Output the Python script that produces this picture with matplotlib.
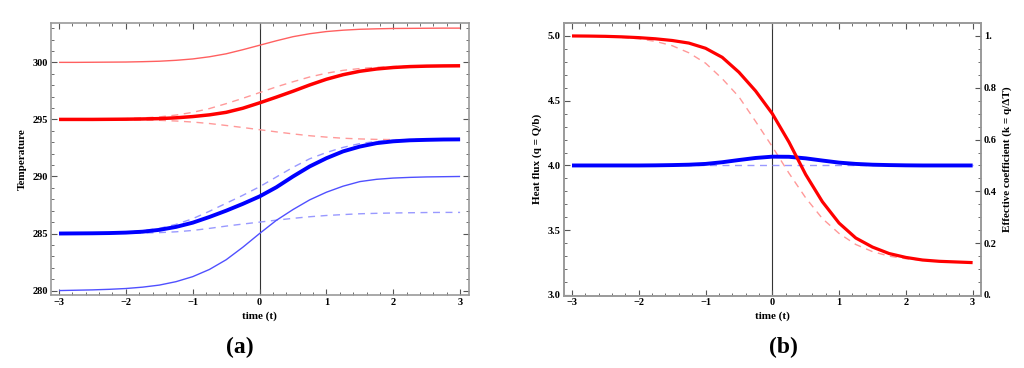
import numpy as np
import matplotlib
matplotlib.use('Agg')
import matplotlib.pyplot as plt
from matplotlib.ticker import MultipleLocator, FixedLocator

# time samples (step 0.25)
t = np.arange(-3, 3.001, 0.25)

# panel (a): temperatures
red_thin = [300.00, 300.00, 300.01, 300.02, 300.03, 300.06, 300.10, 300.18, 300.30, 300.49,
            300.75, 301.11, 301.50, 301.89, 302.25, 302.51, 302.70, 302.82, 302.90, 302.94,
            302.97, 302.98, 302.99, 303.00, 303.00]
red_thick = [295.00, 295.00, 295.00, 295.01, 295.02, 295.04, 295.07, 295.14, 295.25, 295.40,
             295.62, 295.98, 296.45, 296.95, 297.47, 298.02, 298.52, 298.92, 299.22, 299.42,
             299.55, 299.63, 299.67, 299.69, 299.70]
red_dash_up = [295.00, 295.01, 295.02, 295.04, 295.07, 295.13, 295.22, 295.38, 295.62, 295.95,
               296.38, 296.85, 297.35, 297.85, 298.30, 298.72, 299.05, 299.30, 299.46, 299.57,
               299.63, 299.67, 299.69, 299.70, 299.70]
red_dash_lo = [295.00, 295.00, 294.99, 294.98, 294.97, 294.95, 294.92, 294.86, 294.77, 294.64,
               294.47, 294.29, 294.10, 293.91, 293.73, 293.57, 293.45, 293.35, 293.29, 293.25,
               293.23, 293.21, 293.20, 293.20, 293.20]
blue_thick = [285.00, 285.01, 285.02, 285.04, 285.08, 285.16, 285.32, 285.58, 285.95, 286.45,
              287.00, 287.60, 288.25, 289.05, 290.00, 290.88, 291.60, 292.20, 292.62, 292.92,
              293.08, 293.17, 293.21, 293.24, 293.25]
blue_dash_up = [285.00, 285.01, 285.03, 285.06, 285.12, 285.25, 285.45, 285.80, 286.30, 286.95,
                287.65, 288.35, 289.10, 289.95, 290.80, 291.55, 292.10, 292.55, 292.88, 293.08,
                293.18, 293.24, 293.27, 293.29, 293.30]
blue_dash_lo = [285.00, 285.00, 285.00, 285.01, 285.02, 285.04, 285.08, 285.15, 285.27, 285.45,
                285.65, 285.83, 286.00, 286.17, 286.33, 286.47, 286.58, 286.66, 286.73, 286.77,
                286.80, 286.82, 286.84, 286.85, 286.85]
blue_thin = [280.00, 280.03, 280.06, 280.11, 280.18, 280.30, 280.48, 280.78, 281.22, 281.85,
             282.70, 283.80, 285.00, 286.15, 287.10, 287.95, 288.62, 289.15, 289.55, 289.75,
             289.86, 289.92, 289.96, 289.98, 290.00]

# panel (b): heat flux and effective coefficient (on the heat flux scale)
q_solid = [5.000, 4.999, 4.997, 4.993, 4.987, 4.978, 4.965, 4.945, 4.905, 4.835,
           4.720, 4.575, 4.400, 4.180, 3.930, 3.720, 3.555, 3.440, 3.370, 3.320,
           3.290, 3.270, 3.260, 3.255, 3.250]
q_dash = [5.000, 4.998, 4.994, 4.988, 4.978, 4.958, 4.925, 4.870, 4.790, 4.670,
          4.530, 4.340, 4.145, 3.940, 3.750, 3.590, 3.475, 3.390, 3.335, 3.300,
          3.280, 3.268, 3.260, 3.255, 3.250]
k_solid = [4.000, 4.000, 4.000, 4.000, 4.000, 4.001, 4.003, 4.006, 4.012, 4.025,
           4.042, 4.058, 4.068, 4.067, 4.055, 4.038, 4.022, 4.012, 4.006, 4.003,
           4.001, 4.000, 4.000, 4.000, 4.000]
k_dash = [4.00] * len(t)

plt.rcParams['font.family'] = ['Liberation Serif', 'DejaVu Serif']
plt.rcParams['font.weight'] = 'bold'
plt.rcParams['lines.solid_joinstyle'] = 'round'
plt.rcParams['lines.solid_capstyle'] = 'butt'
frame_col = '#9a9a9a'

fig = plt.figure(figsize=(10.24, 3.68), dpi=100)
ax1 = fig.add_axes([0.0498, 0.198, 0.408, 0.7395])
ax2 = fig.add_axes([0.5505, 0.197, 0.4078, 0.7405])


def style(ax, major, minor):
    for s in ax.spines.values():
        s.set_color(frame_col)
        s.set_linewidth(1.2)
    ax.xaxis.set_major_locator(MultipleLocator(1))
    ax.xaxis.set_minor_locator(MultipleLocator(0.2))
    ax.yaxis.set_major_locator(MultipleLocator(major))
    ax.yaxis.set_minor_locator(MultipleLocator(minor))
    ax.tick_params(which='both', direction='in', top=True, right=True,
                   color='#555555', labelsize=7.5, pad=2)
    ax.tick_params(which='major', length=4, width=0.8)
    ax.tick_params(which='minor', length=2, width=0.6)
    ax.axvline(0, color='#333333', lw=0.8, zorder=1)


# panel (a)
style(ax1, 5, 1)
ax1.plot(t, red_dash_up, color='#ff9999', lw=1.0, ls=(0, (5, 4)))
ax1.plot(t, red_dash_lo, color='#ff9999', lw=1.0, ls=(0, (5, 4)))
ax1.plot(t, blue_dash_up, color='#9999ff', lw=1.0, ls=(0, (5, 4)))
ax1.plot(t, blue_dash_lo, color='#9999ff', lw=1.0, ls=(0, (5, 4)))
ax1.plot(t, red_thin, color='#ff6060', lw=1.0)
ax1.plot(t, blue_thin, color='#5050ff', lw=1.0)
ax1.plot(t, red_thick, color='#ff0000', lw=2.5)
ax1.plot(t, blue_thick, color='#0000ff', lw=2.8)
ax1.set_xlim(-3.12, 3.13)
ax1.set_ylim(279.6, 303.45)
ax1.set_xlabel('time (t)', fontsize=8, fontweight='bold', labelpad=3)
ax1.set_ylabel('Temperature', fontsize=8, fontweight='bold', labelpad=4)

# panel (b)
style(ax2, 0.5, 0.1)
ax2.tick_params(which='both', right=False)
ax2.plot(t, q_dash, color='#ff9999', lw=1.0, ls=(0, (5, 4)))
ax2.plot(t, k_dash, color='#9999ff', lw=1.0, ls=(0, (5, 4)))
ax2.plot(t, k_solid, color='#0000ff', lw=2.8)
ax2.plot(t, q_solid, color='#ff0000', lw=2.3)
ax2.set_xlim(-3.124, 3.13)
ax2.set_ylim(2.996, 5.1)
ax2.yaxis.set_major_formatter(matplotlib.ticker.FormatStrFormatter('%.1f'))
ax2.set_xlabel('time (t)', fontsize=8, fontweight='bold', labelpad=3)
ax2.set_ylabel('Heat flux (q = Q/b)', fontsize=8, fontweight='bold', labelpad=4)

axr = ax2.twinx()
axr.set_ylim((2.996 - 3) / 2, (5.1 - 3) / 2)
axr.yaxis.set_major_locator(FixedLocator([0, 0.2, 0.4, 0.6, 0.8, 1.0]))
axr.yaxis.set_minor_locator(MultipleLocator(0.05))
axr.set_yticklabels(['0.', '0.2', '0.4', '0.6', '0.8', '1.'])
axr.tick_params(which='both', direction='in', color='#555555', labelsize=7.5, pad=2)
axr.tick_params(which='major', length=4, width=0.8)
axr.tick_params(which='minor', length=2, width=0.6)
for s in axr.spines.values():
    s.set_color(frame_col)
    s.set_linewidth(1.2)
axr.set_ylabel('Effective coefficient (k = q/\u0394T)', fontsize=8, fontweight='bold',
               rotation=90, labelpad=4)

fig.text(0.2345, 0.055, '(a)', fontsize=17, fontweight='bold', ha='center', va='center')
fig.text(0.765, 0.055, '(b)', fontsize=17, fontweight='bold', ha='center', va='center')

fig.savefig('out.png', dpi=100)
